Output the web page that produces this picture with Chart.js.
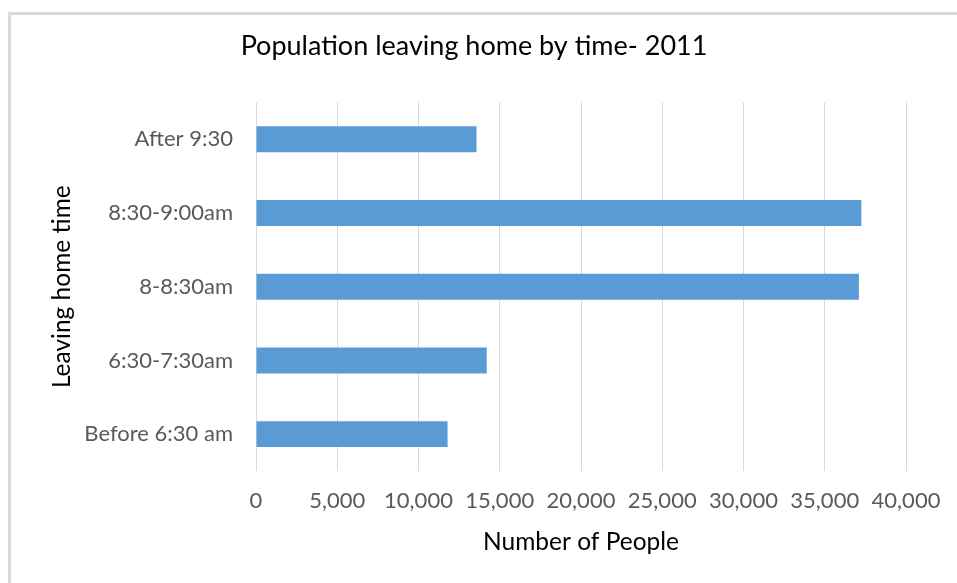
<!DOCTYPE html>
<html>
<head>
<meta charset="utf-8">
<script src="https://cdn.jsdelivr.net/npm/chart.js@4/dist/chart.umd.min.js"></script>
<style>
  html, body { margin: 0; padding: 0; background: #fff; }
  #wrap { position: relative; width: 957px; height: 583px; overflow: hidden; }
  #frame { position: absolute; left: 8px; top: 12px; width: 1000px; height: 700px;
           border-top: 3px solid #dadada; border-left: 3px solid #dadada; box-sizing: border-box; }
  canvas { position: absolute; left: 0; top: 0; }
</style>
</head>
<body>
<div id="wrap">
  <div id="frame"></div>
  <canvas id="c" width="957" height="583"></canvas>
</div>
<script>
const chartTitle = 'Population leaving home by time- 2011';
const categories = ['After 9:30', '8:30-9:00am', '8-8:30am', '6:30-7:30am', 'Before 6:30 am'];
const people = [13570, 37250, 37100, 14200, 11790];
const xTicks = [0, 5000, 10000, 15000, 20000, 25000, 30000, 35000, 40000];
const xTitle = 'Number of People';
const yTitle = 'Leaving home time';

const FONT = 'Lato, "Open Sans", sans-serif';

new Chart(document.getElementById('c'), {
  type: 'bar',
  data: {
    labels: categories,
    datasets: [{
      data: people,
      backgroundColor: '#5b9bd5',
      borderWidth: 0,
      barPercentage: 0.352,
      categoryPercentage: 1
    }]
  },
  options: {
    indexAxis: 'y',
    responsive: false,
    animation: false,
    layout: { padding: { left: 14, right: 23, top: 0, bottom: 0 } },
    plugins: {
      legend: { display: false },
      tooltip: { enabled: false },
      title: {
        display: true,
        text: chartTitle,
        color: '#000',
        font: { family: FONT, size: 27, weight: 'normal', lineHeight: 1.2 },
        padding: { top: 30, bottom: 40 }
      }
    },
    scales: {
      x: {
        min: xTicks[0],
        max: xTicks[xTicks.length - 1],
        afterBuildTicks: s => { s.ticks = xTicks.map(v => ({ value: v })); },
        afterFit: s => { s.height = 112; s.paddingRight = 51; },
        grid: { color: '#d9d9d9', lineWidth: 1, drawTicks: false },
        border: { display: false },
        ticks: {
          padding: 17,
          color: '#595959',
          font: { family: FONT, size: 22 },
          callback: v => v.toLocaleString('en-US')
        },
        title: {
          display: true,
          text: xTitle,
          color: '#000',
          font: { family: FONT, size: 24.5, lineHeight: 1.2 },
          padding: { top: 0, bottom: 26 }
        }
      },
      y: {
        afterFit: s => { s.width = 242; },
        grid: { display: false, drawTicks: false },
        border: { display: false },
        ticks: {
          padding: 23,
          color: '#595959',
          font: { family: FONT, size: 22 }
        },
        title: {
          display: true,
          text: yTitle,
          color: '#000',
          font: { family: FONT, size: 24.5, lineHeight: 1.2 },
          padding: { top: 33, bottom: 0 }
        }
      }
    }
  }
});
</script>
</body>
</html>
